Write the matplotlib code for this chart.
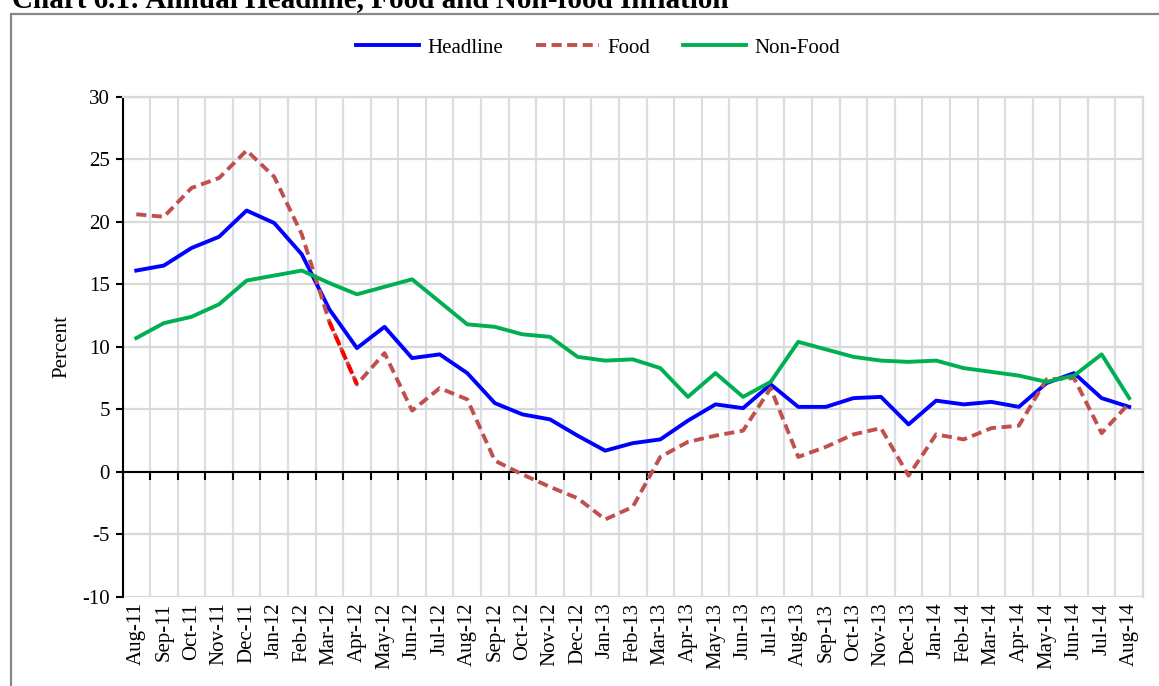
#!/usr/bin/env python

import matplotlib
matplotlib.use('Agg')
import matplotlib.pyplot as plt
from matplotlib.patches import Rectangle

months = ['Aug-11', 'Sep-11', 'Oct-11', 'Nov-11', 'Dec-11', 'Jan-12', 'Feb-12', 'Mar-12',
          'Apr-12', 'May-12', 'Jun-12', 'Jul-12', 'Aug-12', 'Sep-12', 'Oct-12', 'Nov-12',
          'Dec-12', 'Jan-13', 'Feb-13', 'Mar-13', 'Apr-13', 'May-13', 'Jun-13', 'Jul-13',
          'Aug-13', 'Sep-13', 'Oct-13', 'Nov-13', 'Dec-13', 'Jan-14', 'Feb-14', 'Mar-14',
          'Apr-14', 'May-14', 'Jun-14', 'Jul-14', 'Aug-14']

headline = [16.1, 16.5, 17.9, 18.8, 20.9, 19.9, 17.4, 13.0, 9.9, 11.6, 9.1, 9.4, 7.9,
            5.5, 4.6, 4.2, 2.9, 1.7, 2.3, 2.6, 4.1, 5.4, 5.1, 7.0, 5.2, 5.2, 5.9, 6.0,
            3.8, 5.7, 5.4, 5.6, 5.2, 7.1, 7.9, 5.9, 5.2]
food = [20.6, 20.4, 22.7, 23.5, 25.7, 23.6, 19.0, 12.0, 7.0, 9.5, 4.9, 6.7, 5.8,
        0.9, -0.2, -1.2, -2.1, -3.8, -2.8, 1.2, 2.4, 2.9, 3.3, 6.7, 1.2, 2.0, 3.0, 3.5,
        -0.3, 3.0, 2.6, 3.5, 3.7, 7.4, 7.5, 3.1, 5.5]
non_food = [10.7, 11.9, 12.4, 13.4, 15.3, 15.7, 16.1, 15.1, 14.2, 14.8, 15.4, 13.6, 11.8,
            11.6, 11.0, 10.8, 9.2, 8.9, 9.0, 8.3, 6.0, 7.9, 6.0, 7.2, 10.4, 9.8, 9.2, 8.9,
            8.8, 8.9, 8.3, 8.0, 7.7, 7.2, 7.7, 9.4, 5.9]

def main():
  plt.rcParams['font.family'] = ['Liberation Serif', 'DejaVu Serif']
  plt.rcParams['axes.unicode_minus'] = False

  fig = plt.figure(figsize=(11.59, 6.86), dpi=100)
  ax = fig.add_axes([122.5/1159, 1-597/686, (1143-122.5)/1159, (597-96.7)/686])

  x = list(range(len(months)))
  lw = 2.8
  dash = (2.6, 1.4)
  ax.plot(x, headline, color='#0000FF', lw=lw, label='Headline', zorder=3)
  ax.plot(x, food, color='#C0504D', lw=lw, dashes=dash, label='Food', zorder=4)
  # the Mar-12 to Apr-12 stretch is bright red in the original
  ax.plot(x[7:9], food[7:9], color='#FF0000', lw=lw, dashes=dash, zorder=4)
  ax.plot(x, non_food, color='#00B050', lw=lw, label='Non-Food', zorder=5)

  ax.set_xlim(-0.5, len(months) - 0.5)
  ax.set_ylim(-10, 30)
  ax.set_yticks(range(-10, 31, 5))

  # gridlines between categories, like excel
  ax.set_xticks([i - 0.5 for i in range(len(months) + 1)], minor=True)
  ax.set_xticks([])
  ax.grid(True, which='minor', axis='x', color='#DCDEE6', lw=1.6, zorder=0)
  ax.grid(True, which='major', axis='y', color='#D9D9D9', lw=1.6, zorder=0)

  ax.spines['bottom'].set_position(('data', 0))
  ax.spines['bottom'].set_linewidth(1.5)
  ax.spines['left'].set_linewidth(1.5)
  ax.spines['top'].set_color('#D9D9D9')
  ax.spines['right'].set_color('#D9D9D9')
  ax.spines['top'].set_linewidth(1.6)
  ax.spines['right'].set_linewidth(1.6)
  ax.tick_params(axis='x', which='minor', direction='out', length=6, width=1.5, labelbottom=False)
  ax.tick_params(axis='y', direction='out', length=5, width=1.5, labelsize=15, pad=4)

  sec = ax.secondary_xaxis('bottom')
  sec.set_xticks(x)
  sec.set_xticklabels(months, rotation=90, fontsize=15)
  sec.tick_params(length=0, pad=4)
  sec.spines['bottom'].set_visible(False)

  ax.set_ylabel('Percent', fontsize=15, labelpad=8)

  fig.legend(loc='center', bbox_to_anchor=(598/1159, 1-48/686), ncol=3, frameon=False,
             fontsize=15, handlelength=3.0, handletextpad=0.4, columnspacing=1.6)

  # chart border
  fig.patches.append(Rectangle((11/1159, -0.1), 1.2, 1.1 - 13.5/686, transform=fig.transFigure,
                               fill=False, edgecolor='#888888', lw=1.6))
  fig.text(12/1159, 1-7.5/686, 'Chart 6.1: Annual Headline, Food and Non-food Inflation',
           fontsize=21, fontweight='bold', ha='left', va='baseline')

  plt.savefig('out.png', dpi=100)

if __name__ == "__main__":
  main()
